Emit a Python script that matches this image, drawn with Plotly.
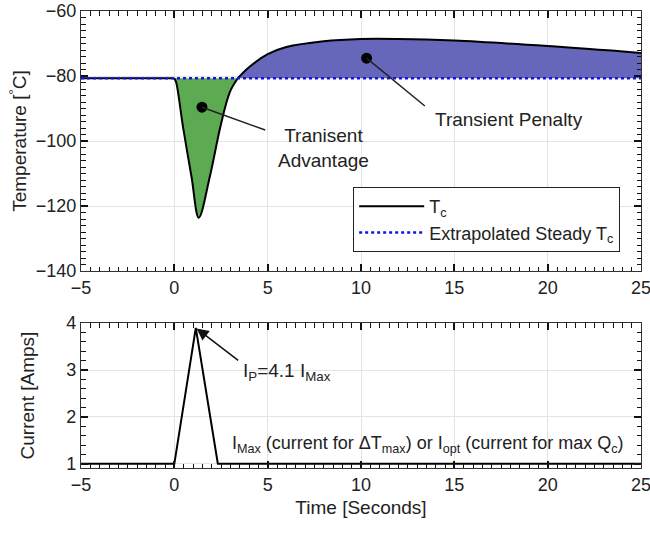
import plotly.graph_objects as go
from plotly.subplots import make_subplots

# ---- data ----
baseline_T = -80.7
t_dip = [0, 0.1, 0.46, 0.92, 1.31, 1.9, 2.47, 2.97, 3.4]
T_dip = [-80.7, -82.0, -95.5, -111.0, -123.6, -111.0, -95.5, -85.0, -80.7]
t_pen = [3.4, 4, 5, 6, 8, 10, 12, 15, 20, 25]
T_pen = [-80.7, -77.3, -73.3, -71.1, -69.3, -68.6, -68.6, -69.1, -70.8, -72.9]
t_pre = [-5, 0]
T_pre = [-80.7, -80.7]
steady_t = [-5, 25]

cur_t = [-5, 0, 1.15, 2.33, 25]
cur_I = [1, 1, 3.9, 1, 1]

dot_adv = (1.48, -89.6)
dot_pen = (10.3, -74.5)

x_range = [-5, 25]
T_range = [-140, -60]
I_range = [0.91, 4]

font = "Liberation Sans, Arial, sans-serif"
TXT = "#222"
GREEN = "rgb(92,170,82)"
BLUE_FILL = "rgb(102,102,186)"

fig = make_subplots(rows=2, cols=1, shared_xaxes=False, vertical_spacing=0.0)

# fills
fig.add_trace(go.Scatter(x=[t_dip[0], t_dip[-1]], y=[baseline_T, baseline_T], mode="lines",
                         line=dict(width=0), showlegend=False, hoverinfo="skip"), row=1, col=1)
fig.add_trace(go.Scatter(x=t_dip, y=T_dip, mode="lines", line=dict(color="black", width=2, shape="spline"),
                         fill="tonexty", fillcolor=GREEN, showlegend=False), row=1, col=1)
fig.add_trace(go.Scatter(x=[t_pen[0], t_pen[-1]], y=[baseline_T, baseline_T], mode="lines",
                         line=dict(width=0), showlegend=False, hoverinfo="skip"), row=1, col=1)
fig.add_trace(go.Scatter(x=t_pen, y=T_pen, mode="lines", line=dict(color="black", width=2, shape="spline"),
                         fill="tonexty", fillcolor=BLUE_FILL, showlegend=False), row=1, col=1)
# legend entry Tc
fig.add_trace(go.Scatter(x=t_pre, y=T_pre, mode="lines", line=dict(color="black", width=2),
                         name="T<sub>c</sub>", legendgroup="a"), row=1, col=1)
# steady line
fig.add_trace(go.Scatter(x=steady_t, y=[baseline_T, baseline_T], mode="lines",
                         line=dict(color="rgb(20,20,230)", width=2.5, dash="dot"),
                         name="Extrapolated Steady T<sub>c</sub>", legendgroup="b"), row=1, col=1)
# dots
fig.add_trace(go.Scatter(x=[dot_adv[0], dot_pen[0]], y=[dot_adv[1], dot_pen[1]], mode="markers",
                         marker=dict(color="black", size=11), showlegend=False), row=1, col=1)

# current
fig.add_trace(go.Scatter(x=cur_t, y=cur_I, mode="lines", line=dict(color="black", width=2),
                         showlegend=False), row=2, col=1)

# empty traces on overlay axes used only for minor tick marks
fig.add_trace(go.Scatter(x=[], y=[], xaxis="x3", yaxis="y3", showlegend=False, hoverinfo="skip"))
fig.add_trace(go.Scatter(x=[], y=[], xaxis="x4", yaxis="y4", showlegend=False, hoverinfo="skip"))

axis_common = dict(showline=True, linecolor="#333", linewidth=1.3, mirror="allticks",
                   ticks="inside", ticklen=7, tickcolor="#111", tickwidth=1.5,
                   showgrid=True, gridcolor="#e3e3e3", gridwidth=1, zeroline=False,
                   automargin=False, ticklabeloverflow="allow", layer="above traces",
                   tickfont=dict(family=font, size=18, color=TXT))

fig.update_xaxes(range=x_range, dtick=5, **axis_common)
fig.update_xaxes(title=dict(text="Time [Seconds]", font=dict(family=font, size=19, color=TXT), standoff=6),
                 row=2, col=1)
fig.update_yaxes(range=T_range, dtick=20,
                 title=dict(text="Temperature [<sup>°</sup>C]", font=dict(family=font, size=19, color=TXT),
                            standoff=4),
                 row=1, col=1, **axis_common)
fig.update_yaxes(range=I_range, tickvals=[1, 2, 3, 4],
                 title=dict(text="Current [Amps]", font=dict(family=font, size=19, color=TXT), standoff=26),
                 row=2, col=1, **axis_common)

minor_common = dict(showline=False, showgrid=False, zeroline=False, showticklabels=False,
                    ticks="inside", ticklen=4.5, tickwidth=1.3, tickcolor="#111", mirror="ticks",
                    automargin=False, fixedrange=True, layer="above traces")

fig.update_layout(
    width=650, height=534, plot_bgcolor="white", paper_bgcolor="white",
    margin=dict(l=81, r=9, t=11, b=66, autoexpand=False),
    yaxis=dict(domain=[0.431, 1.0]), yaxis2=dict(domain=[0.0, 0.317]),
    xaxis3=dict(overlaying="x", anchor="y3", range=x_range, dtick=0.5, tick0=0, **minor_common),
    yaxis3=dict(overlaying="y", anchor="x3", range=T_range, dtick=2, tick0=0, **minor_common),
    xaxis4=dict(overlaying="x2", anchor="y4", range=x_range, dtick=0.5, tick0=0, **minor_common),
    yaxis4=dict(overlaying="y2", anchor="x4", range=I_range, dtick=0.2, tick0=0, **minor_common),
    legend=dict(x=0.486, y=0.615, xanchor="left", yanchor="top", bordercolor="#222", borderwidth=1,
                bgcolor="white", font=dict(family=font, size=18, color=TXT), tracegroupgap=14,
                traceorder="normal", itemwidth=65),
    font=dict(family=font, size=18, color=TXT),
    showlegend=True,
)

# annotation lines and texts (top)
fig.add_annotation(x=dot_adv[0], y=dot_adv[1], ax=4.95, ay=-96.8, axref="x", ayref="y", xref="x", yref="y",
                   showarrow=True, arrowhead=0, arrowwidth=1.5, arrowcolor=TXT, text="")
fig.add_annotation(x=5.45, y=-102, xref="x", yref="y", text="Tranisent<br>Advantage", showarrow=False,
                   xanchor="left", yanchor="middle", align="center",
                   font=dict(family=font, size=19, color=TXT))
fig.add_annotation(x=dot_pen[0], y=dot_pen[1], ax=13.5, ay=-89.6, axref="x", ayref="y", xref="x", yref="y",
                   showarrow=True, arrowhead=0, arrowwidth=1.5, arrowcolor=TXT, text="")
fig.add_annotation(x=13.85, y=-93.4, xref="x", yref="y", text="Transient Penalty", showarrow=False,
                   xanchor="left", yanchor="middle", font=dict(family=font, size=19, color=TXT))

# bottom annotations
fig.add_annotation(x=cur_t[2], y=cur_I[2], ax=3.5, ay=3.18, axref="x2", ayref="y2", xref="x2", yref="y2",
                   showarrow=True, arrowhead=2, arrowsize=1.6, arrowwidth=1.5, arrowcolor="#111", text="",
                   standoff=1)
fig.add_annotation(x=3.55, y=2.95, xref="x2", yref="y2", text="I<sub>P</sub>=4.1 I<sub>Max</sub>",
                   showarrow=False, xanchor="left", yanchor="middle", font=dict(family=font, size=19, color=TXT))
fig.add_annotation(x=3.0, y=1.42, xref="x2", yref="y2",
                   text="I<sub>Max</sub> (current for ΔT<sub>max</sub>) or I<sub>opt</sub> (current for max Q<sub>c</sub>)",
                   showarrow=False, xanchor="left", yanchor="middle", font=dict(family=font, size=18, color=TXT))

fig.write_html("out.html", config={"displayModeBar": False},
               post_script="document.body.style.margin='0';")
